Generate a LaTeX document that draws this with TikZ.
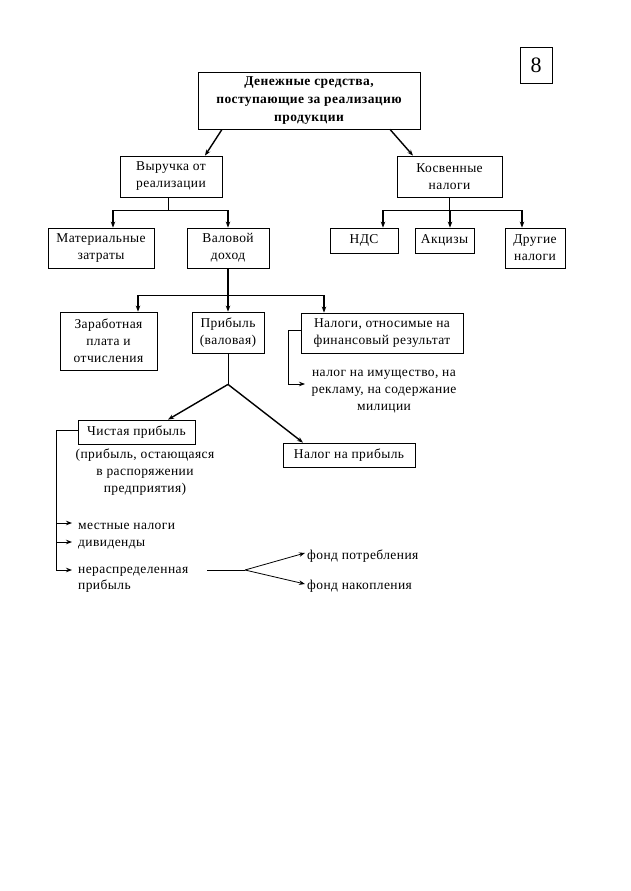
\documentclass[tikz,border=0pt]{standalone}
\usepackage{fontspec}
\setmainfont{Liberation Serif}[LetterSpace=3]
\usetikzlibrary{arrows.meta,calc}
\begin{document}
\begin{tikzpicture}[x=1pt,y=-1pt,
  box/.style={draw,line width=0.8pt,align=center,inner sep=0pt,font=\fontsize{13.5}{17}\selectfont},
  txt/.style={align=center,inner sep=0pt,font=\fontsize{13.5}{17}\selectfont},
  ltxt/.style={align=left,inner sep=0pt,anchor=west,font=\fontsize{13.5}{16}\selectfont},
  ln/.style={line width=0.8pt},
  thk/.style={line width=1.4pt},
  arr/.style={-{Stealth[length=6pt,width=4.5pt]}},
]
\useasboundingbox (0,0) rectangle (630,891);
% nodes
\node[box,minimum width=32,minimum height=36,font=\fontsize{22}{24}\selectfont] (eight) at (536,65) {8};
\node[box,minimum width=222,minimum height=57,font=\bfseries\fontsize{13.5}{18}\selectfont] (top) at (309,100.5) {\raisebox{-2pt}{\parbox{200pt}{\centering Денежные средства,\\поступающие за реализацию\\продукции}}};
\node[box,minimum width=102,minimum height=41] (vyr) at (171,176.5) {Выручка от\\реализации};
\node[box,minimum width=105,minimum height=41] (kos) at (449.5,176.5) {Косвенные\\налоги};
\node[box,minimum width=106,minimum height=40] (mat) at (101,248) {Материальные\\затраты};
\node[box,minimum width=82,minimum height=40] (val) at (228,248) {Валовой\\доход};
\node[box,minimum width=68,minimum height=25] (nds) at (364,240.5) {НДС};
\node[box,minimum width=59,minimum height=25] (akc) at (444.5,240.5) {Акцизы};
\node[box,minimum width=60,minimum height=40] (dr) at (535,248) {Другие\\налоги};
\node[box,minimum width=97,minimum height=58] (zar) at (108.5,341) {Заработная\\плата и\\отчисления};
\node[box,minimum width=72,minimum height=41] (prib) at (228,332.5) {Прибыль\\(валовая)};
\node[box,minimum width=162,minimum height=40] (nal) at (382,333) {Налоги, относимые на\\финансовый результат};
\node[txt] (naltx) at (384,391.5) {налог на имущество, на\\рекламу, на содержание\\милиции};
\node[box,minimum width=117,minimum height=24] (chist) at (136.5,432) {Чистая прибыль};
\node[txt] (chtx) at (145,472) {(прибыль, остающаяся\\в распоряжении\\предприятия)};
\node[box,minimum width=132,minimum height=24] (nalpr) at (349,455) {Налог на прибыль};
\node[ltxt] (mest) at (78,526) {местные налоги};
\node[ltxt] (div) at (78,545) {дивиденды};
\node[ltxt] (ner) at (78,580) {нераспределенная\\прибыль};
\node[ltxt] (fp) at (307,556) {фонд потребления};
\node[ltxt] (fn) at (307,586) {фонд накопления};
% coordinates
\coordinate (naltip) at (305,384);
\coordinate (lb) at (56,570);
\coordinate (fork) at (245,570);
% connectors
\draw[thk,arr] ([xshift=-87pt]top.south) -- ([xshift=34pt]vyr.north);
\draw[thk,arr] ([xshift=81pt]top.south) -- ([xshift=-36.5pt]kos.north);
\draw[ln] ([xshift=-3pt]vyr.south) -- ++(0,13) coordinate (vb);
\draw[thk,arr] (vb) -| ([xshift=12pt]mat.north);
\draw[thk,arr] (vb) -| (val.north);
\draw[thk] (kos.south) -- ++(0,13) coordinate (kb);
\draw[thk,arr] (kb) -| ([xshift=19pt]nds.north);
\draw[thk,arr] (kb) -| ([xshift=5.5pt]akc.north);
\draw[thk,arr] (kb) -| ([xshift=-13pt]dr.north);
\draw[thk] (val.south) -- ++(0,27) coordinate (vlb);
\draw[thk,arr] (vlb) -| ([xshift=29.5pt]zar.north);
\draw[thk,arr] (vlb) -| (prib.north);
\draw[thk,arr] (vlb) -| ([xshift=-58pt]nal.north);
\draw[ln,arr] ([yshift=3pt]nal.west) -| ($(naltip)+(-17,0)$) -- (naltip);
\draw[ln] (prib.south) -- ++(0,31) coordinate (pv);
\draw[thk,arr] (pv) -- ([xshift=31.5pt]chist.north);
\draw[thk,arr] (pv) -- ([xshift=-46pt]nalpr.north);
\draw[ln] ([yshift=2pt]chist.west) -| (lb);
\draw[ln,arr] ([yshift=3pt]mest.west -| lb) -- ([xshift=-6pt,yshift=3pt]mest.west);
\draw[ln,arr] ([yshift=3pt]div.west -| lb) -- ([xshift=-6pt,yshift=3pt]div.west);
\draw[ln,arr] (lb) -- ([xshift=-6pt,yshift=10pt]ner.west);
\draw[ln] (fork) -- ++(-38,0);
\draw[ln,arr] (fork) -- ([xshift=-2pt,yshift=3pt]fp.west);
\draw[ln,arr] (fork) -- ([xshift=-2pt,yshift=2pt]fn.west);
\end{tikzpicture}
\end{document}
